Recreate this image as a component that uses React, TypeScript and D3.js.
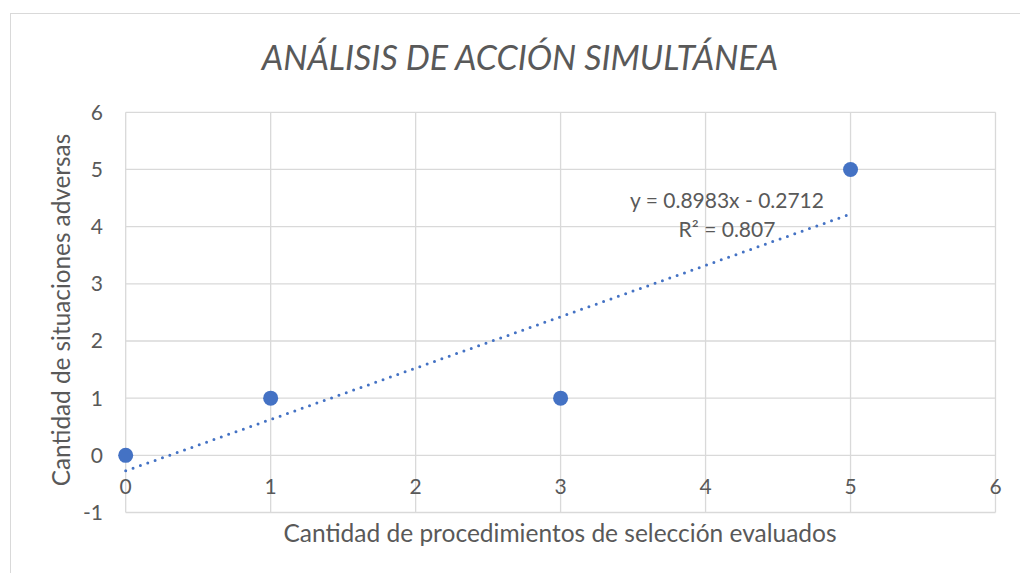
import React from "react";
import * as d3 from "d3";

const xValues = [0, 1, 3, 5];
const yValues = [0, 1, 1, 5];
const xTicks = [0, 1, 2, 3, 4, 5, 6];
const yTicks = [-1, 0, 1, 2, 3, 4, 5, 6];
const title = "ANÁLISIS DE ACCIÓN SIMULTÁNEA";
const xLabel = "Cantidad de procedimientos de selección evaluados";
const yLabel = "Cantidad de situaciones adversas";
const trendSlope = 0.8983;
const trendIntercept = -0.2712;
const trendRange = [0, 5];
const eqText = "y = 0.8983x - 0.2712";
const r2Text = "R² = 0.807";

export default function App() {
  const W = 1020, H = 573;
  const x = d3.scaleLinear().domain([0, 6]).range([125.7, 995.5]);
  const y = d3.scaleLinear().domain([-1, 6]).range([512.5, 112.3]);
  const font = "Lato, 'Open Sans', sans-serif";
  const grey = "#595959";
  const grid = "#d9d9d9";
  const blue = "#4472C4";
  const line = d3.line<number>().x((d) => x(d)).y((d) => y(trendSlope * d + trendIntercept));
  return (
    <svg width={W} height={H} style={{ position: "absolute", left: 0, top: 0, background: "#fff" }} fontFamily={font}>
      <rect x={10.5} y={13.5} width={1015} height={570} fill="#fff" stroke={grid} />
      {xTicks.map((t) => (
        <line key={"vx" + t} x1={x(t)} x2={x(t)} y1={y(-1)} y2={y(6)} stroke={grid} strokeWidth={1.3} />
      ))}
      {yTicks.map((t) => (
        <line key={"hy" + t} x1={x(0)} x2={x(6)} y1={y(t)} y2={y(t)} stroke={grid} strokeWidth={1.3} />
      ))}
      {xTicks.map((t) => (
        <text key={"xl" + t} x={x(t)} y={y(0) + 39} textAnchor="middle" fontSize={21} fill={grey}>{t}</text>
      ))}
      {yTicks.map((t) => (
        <text key={"yl" + t} x={103} y={y(t) + 7.5} textAnchor="end" fontSize={21} fill={grey}>{t}</text>
      ))}
      <path d={line(trendRange) || ""} fill="none" stroke={blue} strokeWidth={3} strokeLinecap="round" strokeDasharray="0 7.8" />
      {xValues.map((v, i) => (
        <circle key={"p" + i} cx={x(v)} cy={y(yValues[i])} r={7.5} fill={blue} />
      ))}
      <text x={727} y={208} textAnchor="middle" fontSize={21} fill={grey}>{eqText}</text>
      <text x={727} y={237} textAnchor="middle" fontSize={21} fill={grey}>{r2Text}</text>
      <text x={520} y={70} textAnchor="middle" fontSize={34} fontStyle="italic" fill={grey}>{title}</text>
      <text x={560} y={542} textAnchor="middle" fontSize={24.5} fill={grey}>{xLabel}</text>
      <text transform={`translate(70,310) rotate(-90)`} textAnchor="middle" fontSize={24.3} fill={grey}>{yLabel}</text>
    </svg>
  );
}
